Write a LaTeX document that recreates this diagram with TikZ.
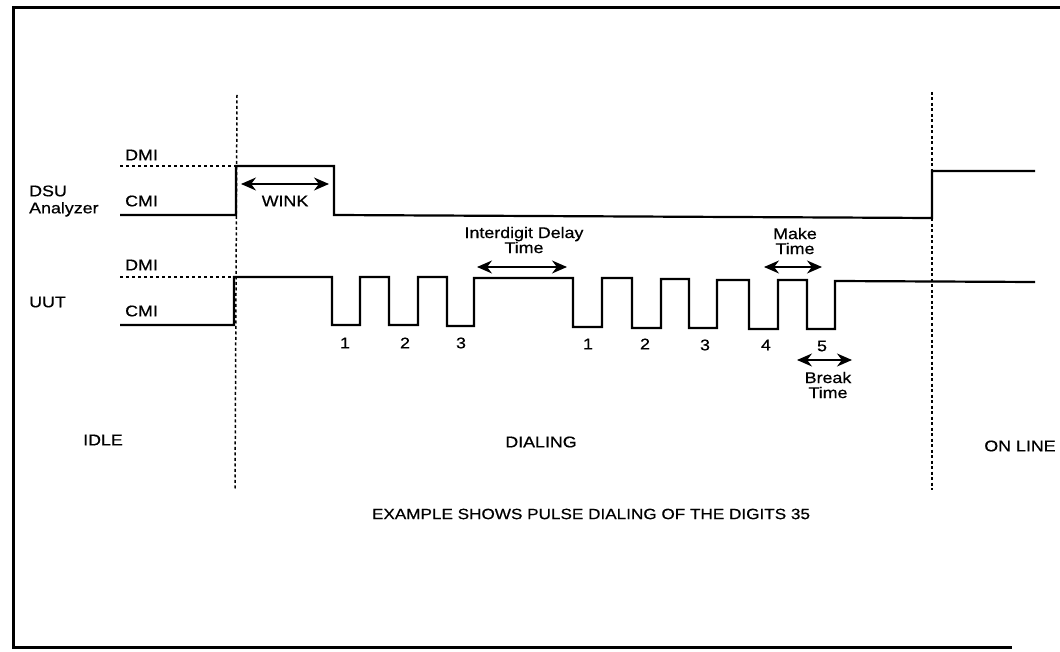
\documentclass[tikz,border=0pt]{standalone}
\usepackage{fontspec}
\setmainfont[FakeStretch=1.15,FakeBold=0.6]{Liberation Sans}
\usetikzlibrary{arrows.meta}
\tikzset{
  sig/.style={line width=2.2pt, line join=miter},
  frame/.style={line width=3pt},
  guide/.style={line width=1.5pt, dash pattern=on 3pt off 2.5pt},
  lvl/.style={line width=1.5pt, dash pattern=on 3pt off 3pt},
  dim/.style={line width=1.5pt, {Stealth[length=15pt,width=13pt]}-{Stealth[length=15pt,width=13pt]}},
  lbl/.style={font=\fontsize{15.5}{16}\selectfont, inner sep=0pt, align=center},
  lftlbl/.style={font=\fontsize{15.5}{17}\selectfont, inner sep=0pt, anchor=west, align=left},
}
\begin{document}
\begin{tikzpicture}[x=1pt,y=-1pt]
\useasboundingbox (0,0) rectangle (1060,652);
% frame
\draw[frame] (1060,8) -- (13,8) -- (13,647) -- (1012,647);
% guides
\draw[guide] (237,95) -- (235,490);
\draw[guide] (932,92) -- (932,490);
% level lines
\draw[lvl] (120,166) -- (236,166);
\draw[lvl] (120,277) -- (234,277);
% DSU signal
\draw[sig] (120,215) -- (236,215) -- (236,166) -- (334,166) -- (334,215) -- (932,218) -- (932,171) -- (1035,171);
% UUT signal
\draw[sig] (120,325) -- (234,325) -- (234,277) -- (332,277) -- (332,325) -- (360,325) -- (360,277)
  -- (389,277) -- (389,325) -- (418,325) -- (418,277) -- (447,277) -- (447,326) -- (474,326)
  -- (474,278) -- (573,278) -- (573,327) -- (602,327) -- (602,278) -- (632,278) -- (632,328)
  -- (661,328) -- (661,279) -- (689,279) -- (689,328) -- (717,328) -- (717,280) -- (749,280)
  -- (749,329) -- (778,329) -- (778,280) -- (807,280) -- (807,329) -- (835,329) -- (835,281) -- (1035,282);
% labels
\node[lftlbl] (dmi1) at (125,155) {DMI};
\node[lftlbl] (cmi1) at (125,201) {CMI};
\node[lftlbl] (dsu) at (29,201) {DSU\\Analyzer};
\node[lftlbl] (dmi2) at (125,265) {DMI};
\node[lftlbl] (cmi2) at (125,311) {CMI};
\node[lftlbl] (uut) at (29,302) {UUT};
% dimension arrows
\coordinate (w1) at (241,184); \coordinate (w2) at (329,184);
\draw[dim] (w1) -- (w2);
\node[lbl] (wink) at (285,201) {WINK};
\coordinate (i1) at (477,267); \coordinate (i2) at (567,267);
\draw[dim] (i1) -- (i2);
\node[lbl] (idt) at (524,240) {Interdigit Delay\\[-1pt]Time};
\coordinate (m1) at (764,267); \coordinate (m2) at (822,267);
\draw[dim] (m1) -- (m2);
\node[lbl] (mkt) at (795,241) {Make\\[-1pt]Time};
\coordinate (b1) at (797,360); \coordinate (b2) at (852,360);
\draw[dim] (b1) -- (b2);
\node[lbl] (brk) at (828,385) {Break\\[-1pt]Time};
% digit numbers
\node[lbl] (a1) at (345,343) {1};
\node[lbl] (a2) at (405,343) {2};
\node[lbl] (a3) at (461,343) {3};
\node[lbl] (b1n) at (588,344) {1};
\node[lbl] (b2n) at (645,344) {2};
\node[lbl] (b3n) at (705,345) {3};
\node[lbl] (b4n) at (766,345) {4};
\node[lbl] (b5n) at (822,346) {5};
% states
\node[lbl] (idle) at (103,440) {IDLE};
\node[lbl] (dial) at (541,442) {DIALING};
\node[lbl] (online) at (1020,446) {ON LINE};
\node[lbl, font=\fontsize{14.9}{16}\selectfont] (note) at (591,514) {EXAMPLE SHOWS PULSE DIALING OF THE DIGITS 35};
\end{tikzpicture}
\end{document}
